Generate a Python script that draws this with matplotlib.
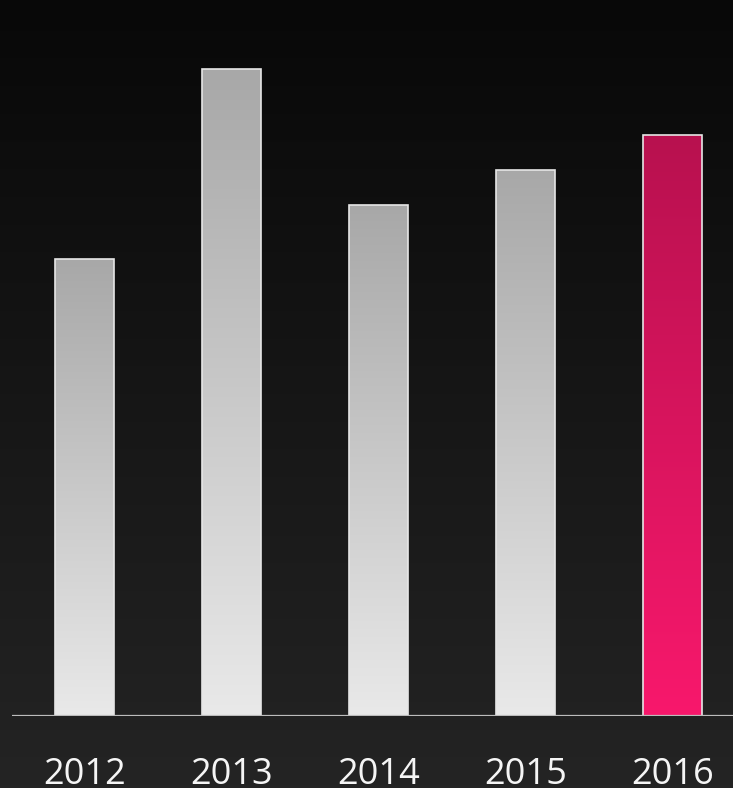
import numpy as np
import matplotlib
matplotlib.use("Agg")
import matplotlib.pyplot as plt
from matplotlib.colors import LinearSegmentedColormap

years = ["2012", "2013", "2014", "2015", "2016"]
values = [70.6, 100.0, 79.0, 84.4, 89.8]
highlight = "2016"

W, H, DPI = 733, 788, 100
fig = plt.figure(figsize=(W / DPI, H / DPI), dpi=DPI)

# page background: vertical dark gradient
bg = fig.add_axes([0, 0, 1, 1], zorder=0)
bg.set_axis_off()
grad = np.linspace(0, 1, 256).reshape(-1, 1)
bg_cmap = LinearSegmentedColormap.from_list("bg", ["#080808", "#242424"])
bg.imshow(grad, aspect="auto", cmap=bg_cmap, extent=[0, 1, 0, 1], origin="upper")
bg.set_xlim(0, 1)
bg.set_ylim(0, 1)

left_px, base_px = 12, 716
ax = fig.add_axes([left_px / W, (H - base_px) / H, 1 - left_px / W, base_px / H], zorder=1)
ax.patch.set_alpha(0)

x = np.arange(len(years))
width = 0.4
bars = ax.bar(x, values, width=width, facecolor="none", edgecolor="#e6e6e6", linewidth=1.2, zorder=3)

gray_cmap = LinearSegmentedColormap.from_list("gray", ["#a8a8a8", "#e9e9e9"])
pink_cmap = LinearSegmentedColormap.from_list("pink", ["#b8114f", "#f8186c"])
for yr, rect in zip(years, bars):
    cm = pink_cmap if yr == highlight else gray_cmap
    x0, w, h = rect.get_x(), rect.get_width(), rect.get_height()
    ax.imshow(grad, aspect="auto", cmap=cm, extent=[x0, x0 + w, 0, h],
              origin="upper", zorder=2)

spacing = 147
ax.set_xlim(x[0] + (left_px - 84.5) / spacing, x[0] + (W - 84.5) / spacing)
ax.set_ylim(0, 110.7)
ax.axhline(0, color="#bcbcbc", linewidth=1.6, zorder=4)

for s in ax.spines.values():
    s.set_visible(False)
ax.set_yticks([])
ax.set_xticks(x)
ax.set_xticklabels(years, fontsize=26, color="#f5f5f5", family=["Open Sans", "DejaVu Sans"])
ax.tick_params(axis="x", length=0, pad=29.5)

fig.savefig("out.png", dpi=DPI)
